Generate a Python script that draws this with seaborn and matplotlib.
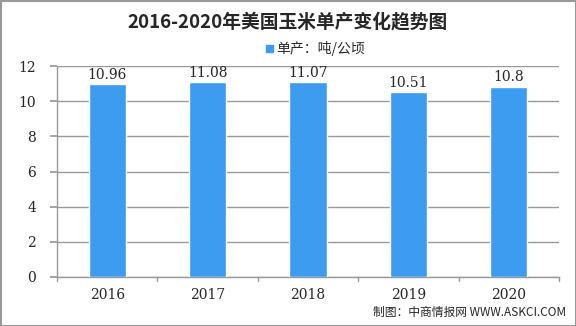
import matplotlib
matplotlib.use("Agg")
import matplotlib.pyplot as plt
import seaborn as sns
import pandas as pd
from matplotlib.patches import Rectangle

years = ["2016", "2017", "2018", "2019", "2020"]
values = [10.96, 11.08, 11.07, 10.51, 10.8]
labels = ["10.96", "11.08", "11.07", "10.51", "10.8"]
yticks = [0, 2, 4, 6, 8, 10, 12]

sns.set_theme(style="white")
plt.rcParams['font.family'] = ['Noto Sans CJK SC', 'DejaVu Sans']

df = pd.DataFrame({"year": years, "value": values})

fig = plt.figure(figsize=(5.76, 3.26), dpi=100)
ax = fig.add_axes([57/576, 1-277/326, (559-57)/576, (277-66)/326])

sns.barplot(data=df, x="year", y="value", color="#3D9BF0", width=0.37,
            saturation=1, ax=ax, zorder=3)

ax.set_ylim(0, 12)
ax.set_xlim(-0.5, 4.5)
ax.set_yticks(yticks)
ax.set_yticklabels([str(t) for t in yticks], fontsize=10, family='DejaVu Serif')
ax.set_xticks(range(5))
ax.set_xticklabels(years, fontsize=10, family='DejaVu Serif')
ax.tick_params(axis='x', length=0, pad=8)
ax.tick_params(axis='y', length=5, color='#999999', pad=10, left=True)
# band-boundary ticks on x axis
for b in [-0.5, 0.5, 1.5, 2.5, 3.5, 4.5]:
    ax.plot([b, b], [0, -0.25], color='#999999', lw=1, clip_on=False, zorder=4)
ax.set_xlabel("")
ax.set_ylabel("")
ax.grid(axis='y', color='#999999', lw=1, zorder=0)
for s in ['top', 'right']:
    ax.spines[s].set_visible(False)
for s in ['left', 'bottom']:
    ax.spines[s].set_color('#999999')
    ax.spines[s].set_linewidth(1)

for i, (v, l) in enumerate(zip(values, labels)):
    ax.text(i, v + 0.15, l, ha='center', va='bottom', fontsize=10,
            family='DejaVu Serif')

fig.text(0.5, 1-22/326, "2016-2020年美国玉米单产变化趋势图", ha='center', va='center',
         fontsize=13.5, fontweight='bold')
fig.add_artist(Rectangle((266/576, 1-52/326), 7/576, 7/326, color="#3D9BF0",
                         transform=fig.transFigure))
fig.text(276/576, 1-48/326, "单产：吨/公顷", ha='left', va='center', fontsize=10)
fig.text(1-10/576, 1-312/326, "制图：中商情报网 WWW.ASKCI.COM", ha='right', va='center',
         fontsize=8.5)

fig.add_artist(Rectangle((0.5/576, 0.5/326), 575/576, 325/326, fill=False,
                         edgecolor='#999999', lw=1.5, transform=fig.transFigure))

fig.savefig("out.png", dpi=100)
